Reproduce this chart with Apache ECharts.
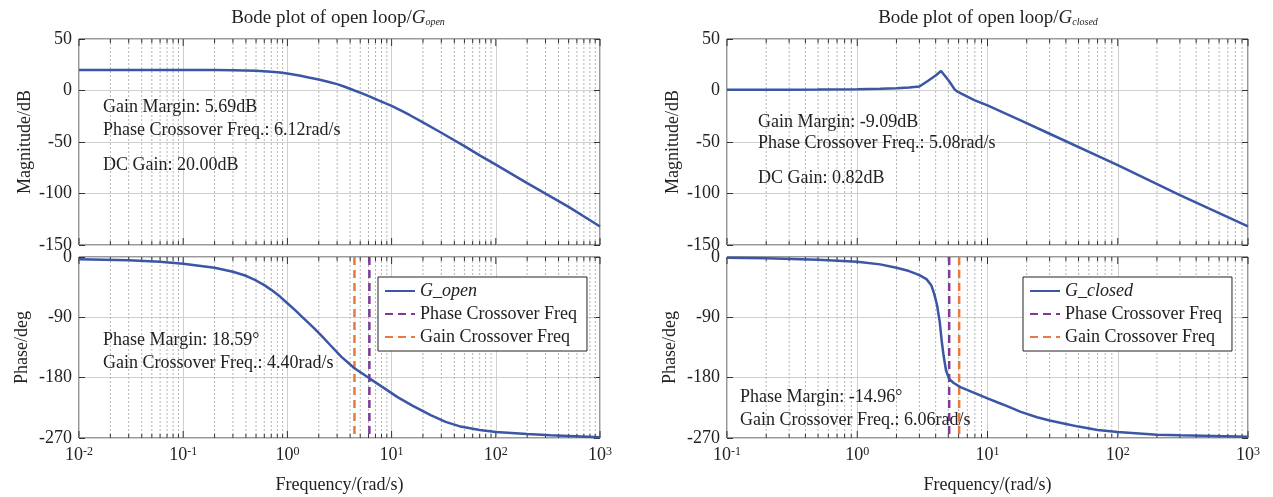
<!doctype html>
<html lang="en">
<head>
<meta charset="UTF-8">
<title>Bode plot</title>
<script src="https://cdn.jsdelivr.net/npm/echarts@6/dist/echarts.min.js"></script>
<style>
  html, body { margin: 0; background: #fff; }
  #chart { width: 1273px; height: 497px; }
</style>
</head>
<body>
<div id="chart"></div>
<script>
// ---- open loop (left) ----
var fOpenMag = [0.01, 0.03, 0.1, 0.2, 0.3, 0.5, 0.7, 0.85, 1, 1.3, 1.6, 2, 2.5, 3, 3.6, 4.4, 5.2, 6.12, 7.5, 10, 12.5, 15, 20, 30, 50, 70, 100, 200, 500, 1000];
var magOpen  = [20, 20, 19.9, 19.8, 19.6, 19.1, 18.2, 17.5, 16.5, 14.6, 12.6, 10.6, 8.3, 6.2, 3.4, 0, -2.8, -5.7, -9.6, -15, -19.8, -24, -31, -41, -54, -63, -72, -90, -113, -132];
var fOpenPh  = [0.01, 0.03, 0.06, 0.1, 0.2, 0.3, 0.4, 0.5, 0.6, 0.7, 0.85, 1, 1.2, 1.4, 1.8, 2.2, 2.6, 3.3, 4.4, 6.12, 8, 11.4, 16, 23.7, 33, 46, 70, 100, 200, 336, 1000];
var phOpen   = [-3.5, -5, -7, -10, -16, -22, -28, -35, -42, -49, -59, -69, -80, -90, -106, -120, -132, -149, -166, -181, -193, -209, -222, -236, -246, -253, -258, -261, -264, -266, -269];
var pcfOpen = 6.12, gcfOpen = 4.40;

// ---- closed loop (right) ----
var fClosedMag = [0.1, 0.3, 0.5, 1, 1.5, 2, 2.5, 3, 3.5, 4, 4.4, 5.08, 5.6, 5.9, 6.3, 7, 8, 10, 17.6, 30, 100, 300, 1000];
var magClosed  = [0.8, 0.8, 0.9, 1.2, 1.6, 2.2, 2.9, 3.9, 9.4, 14.5, 19, 9, 1, -1.2, -3, -6, -9.5, -14.5, -28.5, -42, -72.5, -101.5, -132];
var fClosedPh  = [0.1, 0.2, 0.5, 1, 1.5, 2, 2.5, 3, 3.4, 3.7, 3.9, 4.1, 4.3, 4.45, 4.6, 4.8, 5.08, 5.5, 6.2, 8, 10, 12, 14, 18, 24, 30, 40, 50, 70, 100, 200, 300, 1000];
var phClosed   = [-1, -2, -4, -7, -11, -16, -21, -27, -33, -42, -55, -72, -97, -125, -147, -169, -182, -188, -194, -203, -211, -217, -222, -231, -239, -244, -249, -253, -258, -261, -265, -266, -268];
var pcfClosed = 5.08, gcfClosed = 6.06;

// axes
var magRange = [-150, 50], magStep = 50;
var phRange = [-270, 0], phStep = 90;
var decadesOpen = [0.01, 0.1, 1, 10, 100, 1000];
var decadesClosed = [0.1, 1, 10, 100, 1000];
var minorMult = [2, 3, 4, 5, 6, 7, 8, 9];

var textOpen = ['Gain Margin: 5.69dB', 'Phase Crossover Freq.: 6.12rad/s', 'DC Gain: 20.00dB',
                'Phase Margin: 18.59\u00b0', 'Gain Crossover Freq.: 4.40rad/s'];
var textClosed = ['Gain Margin: -9.09dB', 'Phase Crossover Freq.: 5.08rad/s', 'DC Gain: 0.82dB',
                  'Phase Margin: -14.96\u00b0', 'Gain Crossover Freq.: 6.06rad/s'];

var FONT = '"Liberation Serif", "Times New Roman", serif';
var BLUE = '#3a56a5', PURPLE = '#7e3a96', ORANGE = '#e9793c';

function zip(xs, ys) { return xs.map(function (x, i) { return [x, ys[i]]; }); }
function minors(decs) {
  var out = [];
  decs.slice(0, -1).forEach(function (d) { minorMult.forEach(function (m) { out.push(d * m); }); });
  return out;
}

function gridRender(tickLen, dotted) {
  return function (params, api) {
    var cs = params.coordSys;
    var x = api.coord([api.value(0), api.value(1)])[0];
    var kids = [];
    if (dotted) {
      kids.push({ type: 'line', shape: { x1: x, y1: cs.y, x2: x, y2: cs.y + cs.height },
                  style: { stroke: '#b5b5b5', lineWidth: 1, lineDash: [2, 2] } });
    }
    kids.push({ type: 'line', shape: { x1: x, y1: cs.y, x2: x, y2: cs.y + tickLen }, style: { stroke: '#333', lineWidth: 1 } });
    kids.push({ type: 'line', shape: { x1: x, y1: cs.y + cs.height, x2: x, y2: cs.y + cs.height - tickLen }, style: { stroke: '#333', lineWidth: 1 } });
    return { type: 'group', children: kids };
  };
}

function gridSeries(xi, yi, freqs, yRef, tickLen, dotted) {
  return {
    type: 'custom', name: 'grid' + xi, xAxisIndex: xi, yAxisIndex: yi, silent: true, z: 1,
    renderItem: gridRender(tickLen, dotted),
    data: freqs.map(function (f) { return [f, yRef]; })
  };
}

function xAxisCfg(gi, lo, hi, labels) {
  return {
    type: 'log', logBase: 10, gridIndex: gi, min: lo, max: hi, splitNumber: 5,
    axisLine: { show: false }, axisTick: { show: false },
    splitLine: { show: true, lineStyle: { color: '#cfcfcf', width: 1 } },
    axisLabel: {
      show: labels, margin: 8, color: '#222', fontFamily: FONT, fontSize: 18,
      formatter: function (v) { return '10{sup|' + Math.round(Math.log10(v)) + '}'; },
      rich: { sup: { fontSize: 12, fontFamily: FONT, color: '#222', verticalAlign: 'top' } }
    },
    name: labels ? 'Frequency/(rad/s)' : '', nameLocation: 'middle', nameGap: 38,
    nameTextStyle: { fontFamily: FONT, fontSize: 18, color: '#222' }
  };
}

function yAxisPair(gi, range, step, name, gap) {
  return [{
    type: 'value', gridIndex: gi, min: range[0], max: range[1], interval: step,
    axisLine: { show: false },
    axisTick: { show: true, inside: true, length: 6, lineStyle: { color: '#333' } },
    splitLine: { show: true, lineStyle: { color: '#cfcfcf', width: 1 } },
    axisLabel: { color: '#222', fontFamily: FONT, fontSize: 18, margin: 7 },
    name: name, nameLocation: 'middle', nameGap: gap,
    nameTextStyle: { fontFamily: FONT, fontSize: 18, color: '#222' }
  }, {
    type: 'value', gridIndex: gi, position: 'right', min: range[0], max: range[1], interval: step,
    axisLine: { show: false }, axisLabel: { show: false }, splitLine: { show: false },
    axisTick: { show: true, inside: true, length: 6, lineStyle: { color: '#333' } }
  }];
}

function curve(name, xi, yi, data) {
  return { type: 'line', name: name, xAxisIndex: xi, yAxisIndex: yi, data: data, symbol: 'none',
           z: 4, lineStyle: { color: BLUE, width: 2.5 }, itemStyle: { color: BLUE } };
}
function vline(name, xi, yi, f, color) {
  return { type: 'line', name: name, xAxisIndex: xi, yAxisIndex: yi, symbol: 'none', z: 3,
           data: [[f, phRange[1]], [f, phRange[0]]],
           lineStyle: { color: color, width: 2.5, type: [8, 5] }, itemStyle: { color: color } };
}

function legendCfg(left, first) {
  return {
    orient: 'vertical', left: left, top: 277, padding: [5, 10, 5, 6], itemGap: 5,
    itemWidth: 30, itemHeight: 14, backgroundColor: '#fff', borderColor: '#222', borderWidth: 1,
    itemStyle: { opacity: 0 },
    data: [first, 'Phase Crossover Freq', 'Gain Crossover Freq'],
    formatter: function (n) { return n.indexOf('G_') === 0 ? '{it|' + n + '}' : n; },
    textStyle: { fontFamily: FONT, fontSize: 18, color: '#222',
                 rich: { it: { fontFamily: FONT, fontSize: 18, fontStyle: 'italic', color: '#222' } } },
    selectedMode: false
  };
}

function txt(x, y, s) {
  return { type: 'text', x: x, y: y, z: 10,
           style: { text: s, fontFamily: FONT, fontSize: 18, fill: '#222', verticalAlign: 'middle' } };
}
function title(x, sub) {
  return { type: 'text', x: x, y: 18, z: 10,
           style: { text: 'Bode plot of open loop/{g|G}{s|' + sub + '}', fontFamily: FONT, fontSize: 19, fill: '#222',
                    align: 'center', verticalAlign: 'middle',
                    rich: { g: { fontFamily: FONT, fontSize: 19, fontStyle: 'italic', fill: '#222' },
                            s: { fontFamily: FONT, fontSize: 10, fontStyle: 'italic', fill: '#222', verticalAlign: 'bottom' } } } };
}

var gridBox = { show: true, borderColor: '#333', borderWidth: 1, containLabel: false };
var chart = echarts.init(document.getElementById('chart'));
chart.setOption({
  animation: false,
  grid: [
    Object.assign({ left: 79, top: 39, width: 521, height: 206 }, gridBox),
    Object.assign({ left: 79, top: 257, width: 521, height: 181 }, gridBox),
    Object.assign({ left: 727, top: 39, width: 521, height: 206 }, gridBox),
    Object.assign({ left: 727, top: 257, width: 521, height: 181 }, gridBox)
  ],
  xAxis: [
    xAxisCfg(0, 0.01, 1000, false), xAxisCfg(1, 0.01, 1000, true),
    xAxisCfg(2, 0.1, 1000, false), xAxisCfg(3, 0.1, 1000, true)
  ],
  yAxis: [].concat(
    yAxisPair(0, magRange, magStep, 'Magnitude/dB', 45),
    yAxisPair(1, phRange, phStep, 'Phase/deg', 48),
    yAxisPair(2, magRange, magStep, 'Magnitude/dB', 45),
    yAxisPair(3, phRange, phStep, 'Phase/deg', 48)
  ),
  legend: [legendCfg(378, 'G_open'), legendCfg(1023, 'G_closed')],
  graphic: [
    title(338, 'open'), title(988, 'closed'),
    txt(103, 107, textOpen[0]), txt(103, 130, textOpen[1]), txt(103, 165, textOpen[2]),
    txt(103, 340, textOpen[3]), txt(103, 363, textOpen[4]),
    txt(758, 122, textClosed[0]), txt(758, 143, textClosed[1]), txt(758, 178, textClosed[2]),
    txt(740, 397, textClosed[3]), txt(740, 420, textClosed[4])
  ],
  series: [
    gridSeries(0, 0, minors(decadesOpen), magRange[1], 4, true),
    gridSeries(0, 0, decadesOpen, magRange[1], 7, false),
    gridSeries(1, 2, minors(decadesOpen), phRange[1], 4, true),
    gridSeries(1, 2, decadesOpen, phRange[1], 7, false),
    gridSeries(2, 4, minors(decadesClosed), magRange[1], 4, true),
    gridSeries(2, 4, decadesClosed, magRange[1], 7, false),
    gridSeries(3, 6, minors(decadesClosed), phRange[1], 4, true),
    gridSeries(3, 6, decadesClosed, phRange[1], 7, false),
    curve('G_open', 0, 0, zip(fOpenMag, magOpen)),
    curve('G_open', 1, 2, zip(fOpenPh, phOpen)),
    vline('Phase Crossover Freq', 1, 2, pcfOpen, PURPLE),
    vline('Gain Crossover Freq', 1, 2, gcfOpen, ORANGE),
    curve('G_closed', 2, 4, zip(fClosedMag, magClosed)),
    curve('G_closed', 3, 6, zip(fClosedPh, phClosed)),
    vline('Phase Crossover Freq', 3, 6, pcfClosed, PURPLE),
    vline('Gain Crossover Freq', 3, 6, gcfClosed, ORANGE)
  ]
});
</script>
</body>
</html>
